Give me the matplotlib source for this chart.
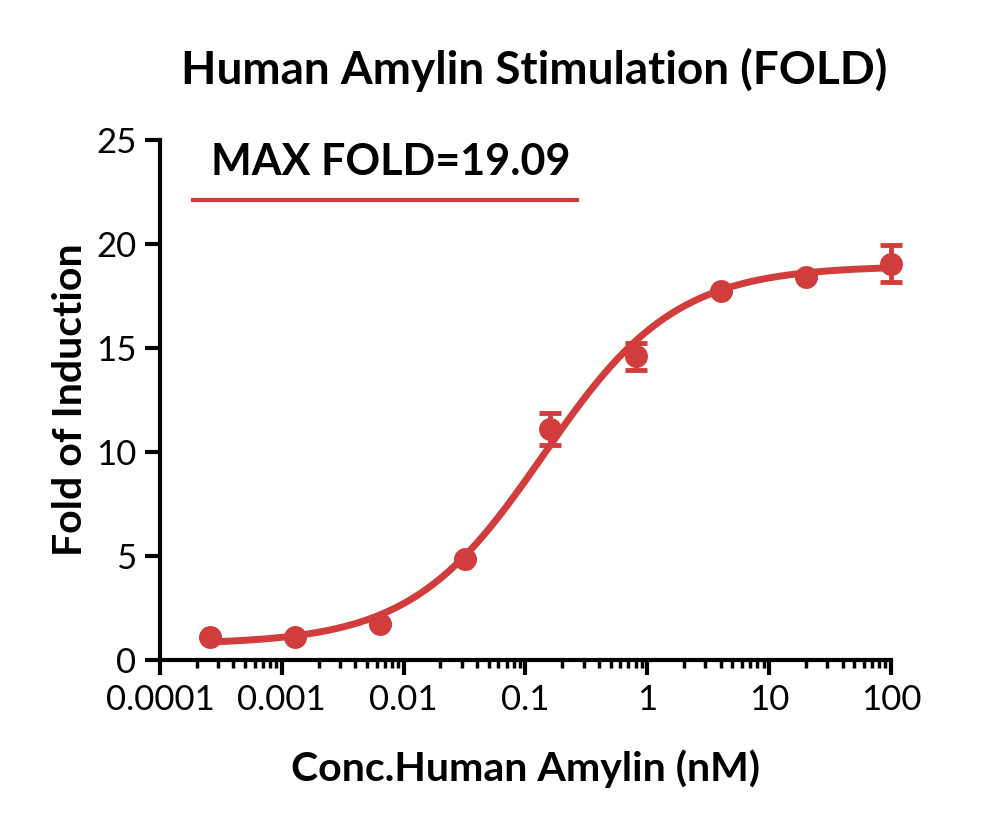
import numpy as np
import matplotlib
matplotlib.use("Agg")
import matplotlib.pyplot as plt
from matplotlib.ticker import FixedLocator, LogLocator, NullFormatter

plt.rcParams['font.family'] = ['Lato', 'DejaVu Sans']

# ---- data ----
conc_nM = [0.000256, 0.00128, 0.0064, 0.032, 0.16, 0.8, 4.0, 20.0, 100.0]
fold = [1.1, 1.1, 1.75, 4.85, 11.1, 14.6, 17.75, 18.4, 19.06]
fold_err = [0.0, 0.0, 0.0, 0.0, 0.77, 0.65, 0.0, 0.0, 0.89]

# 4PL fit parameters (bottom, top, EC50, hill) estimated from the curve
fit_bottom = 0.75
fit_top = 18.95
fit_ec50 = 0.14
fit_hill = 0.8

x_ticks = [0.0001, 0.001, 0.01, 0.1, 1, 10, 100]
x_ticklabels = ["0.0001", "0.001", "0.01", "0.1", "1", "10", "100"]
y_ticks = [0, 5, 10, 15, 20, 25]

RED = "#D13C3C"

def four_pl(x, bottom, top, ec50, hill):
    return bottom + (top - bottom) / (1 + (ec50 / x) ** hill)

fig = plt.figure(figsize=(10, 8.27), dpi=100)
ax = fig.add_axes([0.16, 0.2019, 0.731, 0.6288])

xs = np.logspace(np.log10(conc_nM[0]), np.log10(conc_nM[-1]), 400)
ax.plot(xs, four_pl(xs, fit_bottom, fit_top, fit_ec50, fit_hill),
        color=RED, lw=5, zorder=2, solid_capstyle='round', clip_on=False)
markers, caps, bars = ax.errorbar(conc_nM, fold, yerr=fold_err, fmt='o', color=RED,
                                  ms=15.5, elinewidth=3.5, capsize=8, capthick=3.5,
                                  zorder=3)
markers.set_clip_on(False)
for c in caps:
    c.set_clip_on(False)
for b in bars:
    b.set_clip_on(False)

ax.set_xscale('log')
ax.set_xlim(1e-4, 100)
ax.set_ylim(0, 25)
ax.xaxis.set_major_locator(FixedLocator(x_ticks))
ax.set_xticklabels(x_ticklabels)
ax.xaxis.set_minor_locator(LogLocator(base=10, subs=np.arange(2, 10)))
ax.xaxis.set_minor_formatter(NullFormatter())
ax.set_yticks(y_ticks)

for s in ['top', 'right']:
    ax.spines[s].set_visible(False)
for s in ['left', 'bottom']:
    ax.spines[s].set_linewidth(3)
    ax.spines[s].set_capstyle('projecting')
ax.tick_params(axis='both', which='major', length=11, width=3, labelsize=25, pad=6)
ax.tick_params(axis='x', which='minor', length=6, width=2.5)

ax.set_xlabel("Conc.Human Amylin (nM)", fontsize=29.5, fontweight='bold', labelpad=24)
ax.set_ylabel("Fold of Induction", fontsize=29.5, fontweight='bold')
ax.yaxis.set_label_coords(-0.097, 0.5)

fig.text(0.534, 0.915, "Human Amylin Stimulation (FOLD)", fontsize=33,
         fontweight='bold', ha='center', va='center')

ax.text(0.316, 0.958, "MAX FOLD=19.09", transform=ax.transAxes, fontsize=31,
        fontweight='bold', ha='center', va='center')
ax.plot([0.045, 0.570], [0.885, 0.885], transform=ax.transAxes, color=RED,
        lw=3, clip_on=False)

fig.savefig("out.png", dpi=100)
